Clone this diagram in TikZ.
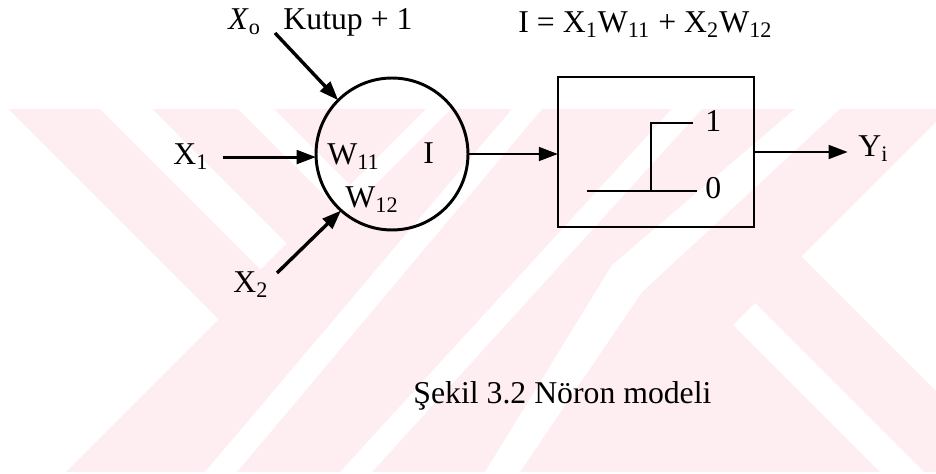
\documentclass[tikz,border=0pt]{standalone}
\usepackage{fontspec}
\setmainfont{Liberation Serif}
\usetikzlibrary{arrows.meta}
\definecolor{filigran}{RGB}{254,237,241}
\tikzset{
  ok/.style={-{Triangle[length=8.5pt,width=6pt]},line width=1.3pt},
  yazi/.style={anchor=base west,inner sep=2pt,font=\fontsize{14}{16}\selectfont},
}

\begin{document}
\begin{tikzpicture}[x=0.0155cm,y=-0.0155cm]
	\useasboundingbox (0,0) rectangle (936,474);
	\fill[filigran] (0,109) rectangle (936,472);
	\fill[white] (0,109)--(8,109)--(218.5,319.5)--(66,472)--(0,472)--cycle;
	\fill[white] (100,109)--(152,109)--(286.5,243.5)--(260.5,269.5)--cycle;
	\fill[white] (238,109)--(274,109)--(355,190)--(337,208)--cycle;
	\fill[white] (426,109)--(451,109)--(344.5,215.5)--(332,203)--cycle;
	\fill[white] (512,109)--(542,109)--(237,472)--(205,472)--cycle;
	\fill[white] (672,109)--(702,109)--(372,472)--(340,472)--cycle;
	\fill[white] (795,109)--(840,109)--(642,292)--(520,472)--(485,472)--(612,265)--cycle;
	\fill[white] (936,122)--(801.5,256.5)--(936,391)--cycle;
	\fill[white] (733,325)--(755,303)--(924,472)--(880,472)--cycle;

	\node (N) [circle,draw,line width=1.3pt,inner sep=0pt,outer sep=0pt,minimum size=2.356cm] at (392,154) {};
	\node (F) [rectangle,draw,line width=1.3pt,inner sep=0pt,outer sep=0pt,minimum width=3.038cm,minimum height=2.325cm] at (656,152) {};
	\draw [line width=0.8pt] (587,191)--(697,191) (651,191)--(651,123)--(693,123);

	\node (X0) [yazi] at (223.5,30) {\textit{X}\textsubscript{o}};
	\node (K)  [yazi] at (278.5,30) {Kutup + 1};
	\node (D)  [yazi] at (513.5,33) {I = X\textsubscript{1}W\textsubscript{11} + X\textsubscript{2}W\textsubscript{12}};
	\node (X1) [yazi] at (168.5,165) {X\textsubscript{1}};
	\node (W1) [yazi] at (322.5,165) {W\textsubscript{11}};
	\node (I)  [yazi] at (418.5,164) {I};
	\node (W2) [yazi] at (340.5,208) {W\textsubscript{12}};
	\node (X2) [yazi] at (228.5,293) {X\textsubscript{2}};
	\node (B1) [yazi] at (700.5,132) {1};
	\node (B0) [yazi] at (700.5,199) {0};
	\node (Y)  [yazi] at (853.5,157) {Y\textsubscript{i}};
	\node (S)  [yazi] at (408.5,403) {Şekil 3.2 Nöron modeli};

	\coordinate (T0) at (275,33);
	\coordinate (T2) at (277,273);
	\draw [ok,line width=1.5pt] (T0)--(N.135);
	\draw [ok,shorten <=4pt] (X1.east)--(X1.east -| N.west);
	\draw [ok,line width=1.5pt] (T2)--(N.228);
	\draw [ok] (N.east)--(N.east -| F.west);
	\draw [ok,shorten >=2.5pt] (F.east)--(F.east -| Y.west);
\end{tikzpicture}
\end{document}
